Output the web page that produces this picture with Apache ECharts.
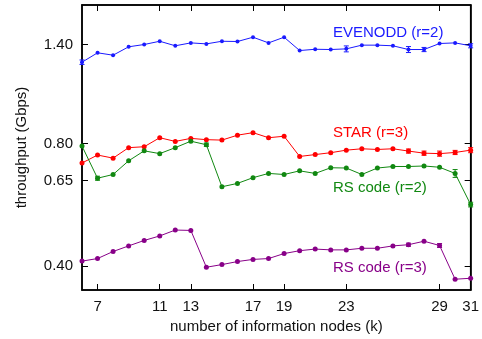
<!DOCTYPE html>
<html><head><meta charset="utf-8">
<script src="https://cdn.jsdelivr.net/npm/echarts@6/dist/echarts.min.js"></script>
<style>html,body{margin:0;padding:0;background:#fff}#c{width:482px;height:339px}</style>
</head><body><div id="c"></div>
<script>
const ks = [6,7,8,9,10,11,12,13,14,15,16,17,18,19,20,21,22,23,24,25,26,27,28,29,30,31];
const evenodd = [1.267,1.336,1.318,1.382,1.400,1.426,1.390,1.413,1.405,1.426,1.424,1.459,1.413,1.459,1.353,1.363,1.361,1.366,1.395,1.395,1.390,1.361,1.361,1.408,1.413,1.390];
const star = [0.717,0.750,0.737,0.782,0.786,0.827,0.810,0.824,0.818,0.816,0.839,0.851,0.827,0.834,0.744,0.752,0.760,0.771,0.777,0.774,0.777,0.767,0.758,0.756,0.761,0.771];
const rs2 = [0.789,0.658,0.672,0.726,0.768,0.756,0.782,0.811,0.795,0.627,0.639,0.660,0.676,0.672,0.686,0.676,0.698,0.697,0.672,0.697,0.703,0.703,0.705,0.700,0.676,0.567];
const rs3 = [0.412,0.418,0.435,0.449,0.463,0.475,0.491,0.490,0.398,0.404,0.411,0.416,0.418,0.430,0.437,0.441,0.439,0.439,0.443,0.443,0.449,0.452,0.461,0.450,0.372,0.374];
// error bar half-widths (0 = none visible)
const evenoddErr = [0.016,0,0,0,0,0,0,0,0,0,0,0,0,0,0,0,0,0.023,0,0,0,0.023,0.016,0,0,0.016];
const starErr = [0,0,0,0,0,0,0,0,0,0,0,0,0,0,0,0,0,0,0,0,0,0.009,0.009,0.011,0.009,0.011];
const rs2Err = [0,0.0075,0,0,0,0,0,0,0.0075,0,0,0,0,0,0,0,0,0,0,0,0,0,0,0,0.015,0.0075];
const rs3Err = [0,0,0,0,0,0,0,0,0,0,0,0,0,0,0,0,0,0,0,0,0,0.004,0,0.005,0,0];
const xTicks = [7,11,13,17,19,23,29,31];
const yTicks = [0.40,0.65,0.80,1.40];
const names = ['EVENODD (r=2)','STAR (r=3)','RS code (r=2)','RS code (r=3)'];
const colors = ['#1a1aff','#ff0000','#118811','#880088'];
const labelPos = [[333,33],[333,133],[333,188],[333,268]];

const chart = echarts.init(document.getElementById('c'));
const font = '"Liberation Sans", Arial, Helvetica, sans-serif';
const mk = (arr)=>ks.map((k,i)=>[k,arr[i]]);
const axisLine = {show:true,lineStyle:{color:'#000',width:1.5}};
const tickStyle = {lineStyle:{color:'#000',width:1}};
const allVals = [evenodd,star,rs2,rs3];
const allErr = [evenoddErr,starErr,rs2Err,rs3Err];
const lineSeries = allVals.map((arr,i)=>({
  type:'line',name:names[i],data:mk(arr),symbol:'circle',symbolSize:i===0?4:5,
  itemStyle:{color:colors[i]},lineStyle:{color:colors[i],width:1},z:3
}));
const errSeries = allVals.map((arr,i)=>({
  type:'custom',
  data:ks.map((k,j)=>[k,arr[j]-allErr[i][j],arr[j]+allErr[i][j]]).filter((d,j)=>allErr[i][j]>0),
  renderItem:(params,api)=>{
    const lo=api.coord([api.value(0),api.value(1)]);
    const hi=api.coord([api.value(0),api.value(2)]);
    const w=2.5;
    const st={stroke:colors[i],lineWidth:1};
    return {type:'group',children:[
      {type:'line',shape:{x1:lo[0],y1:lo[1],x2:hi[0],y2:hi[1]},style:st},
      {type:'line',shape:{x1:lo[0]-w,y1:lo[1],x2:lo[0]+w,y2:lo[1]},style:st},
      {type:'line',shape:{x1:hi[0]-w,y1:hi[1],x2:hi[0]+w,y2:hi[1]},style:st}
    ]};
  },z:4
}));
chart.setOption({
  animation:false,
  grid:{left:82,right:9,top:5,bottom:49,show:true,borderColor:'#000',borderWidth:1.5,backgroundColor:'transparent'},
  xAxis:[{type:'value',min:6,max:31,axisLine:axisLine,
    axisTick:{show:true,inside:true,length:6,customValues:xTicks,...tickStyle},
    axisLabel:{customValues:xTicks,color:'#111',fontSize:15,fontFamily:font,margin:9},
    splitLine:{show:false},
    name:'number of information nodes (k)',nameLocation:'middle',nameGap:25,
    nameTextStyle:{color:'#111',fontSize:15,fontFamily:font}},
    {type:'value',min:6,max:31,position:'top',axisLine:axisLine,
    axisTick:{show:true,inside:true,length:6,customValues:xTicks,...tickStyle},
    axisLabel:{show:false},splitLine:{show:false}}],
  yAxis:[{type:'log',logBase:10,min:0.35,max:1.75,axisLine:axisLine,
    axisTick:{show:true,inside:true,length:6,customValues:yTicks,...tickStyle},
    axisLabel:{customValues:yTicks,color:'#111',fontSize:15,fontFamily:font,margin:9,
      formatter:v=>Number(v).toFixed(2)},
    splitLine:{show:false},minorTick:{show:false},
    name:'throughput (Gbps)',nameLocation:'middle',nameGap:53,nameRotate:90,
    nameTextStyle:{color:'#111',fontSize:15,fontFamily:font}},
    {type:'log',logBase:10,min:0.35,max:1.75,position:'right',axisLine:axisLine,
    axisTick:{show:true,inside:true,length:6,customValues:yTicks,...tickStyle},
    axisLabel:{show:false},splitLine:{show:false}}],
  series:lineSeries.concat(errSeries),
  graphic:names.map((n,i)=>({type:'text',x:labelPos[i][0],y:labelPos[i][1],
    style:{text:n,fill:colors[i],font:'15px '+font,textAlign:'left',textVerticalAlign:'middle'}}))
});
</script></body></html>
